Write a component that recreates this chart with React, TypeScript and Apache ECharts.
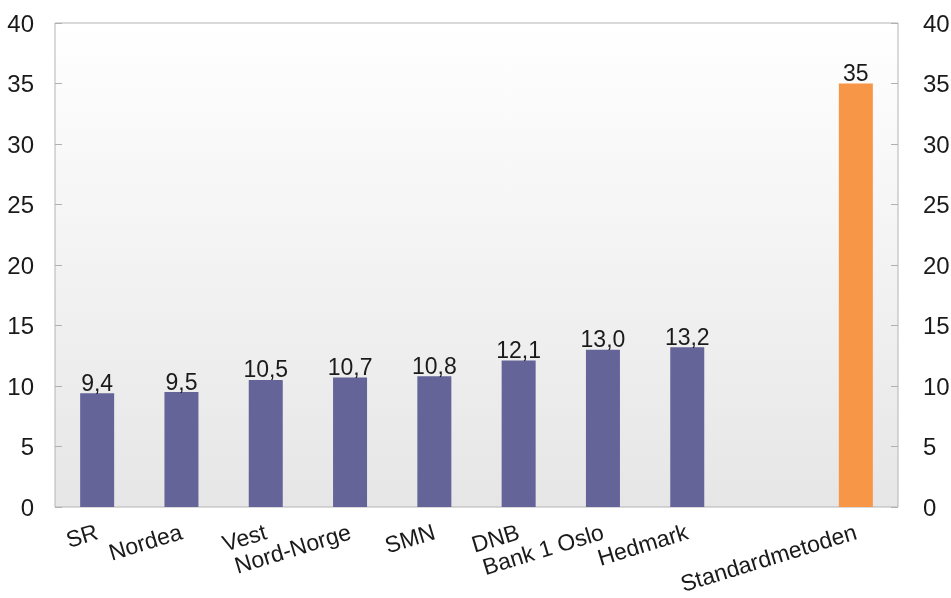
import React, { useEffect, useRef } from "react";
import * as echarts from "echarts";

const categories = ["SR", "Nordea", "Vest", "Nord-Norge", "SMN", "DNB", "Bank 1 Oslo", "Hedmark", "", "Standardmetoden"];
const values = [9.4, 9.5, 10.5, 10.7, 10.8, 12.1, 13.0, 13.2, null, 35];
const valueLabels = ["9,4", "9,5", "10,5", "10,7", "10,8", "12,1", "13,0", "13,2", "", "35"];
const highlighted = [false, false, false, false, false, false, false, false, false, true];
const yTicks = { min: 0, max: 40, interval: 5 };

const PURPLE = "#646498";
const ORANGE = "#F79646";
const FONT = "'Liberation Sans', Arial, sans-serif";

export default function App() {
  const ref = useRef<HTMLDivElement>(null);
  useEffect(() => {
    if (!ref.current) return;
    const chart = echarts.init(ref.current, null, { renderer: "svg" });
    const yAxisBase = {
      type: "value",
      min: yTicks.min,
      max: yTicks.max,
      interval: yTicks.interval,
      splitLine: { show: false },
      axisLine: { show: false },
      axisTick: { show: true, inside: true, length: 7, lineStyle: { color: "#b0b0b0" } },
      axisLabel: { fontSize: 24, color: "#1a1a1a", fontFamily: FONT },
    };
    chart.setOption({
      animation: false,
      textStyle: { fontFamily: FONT },
      grid: {
        left: 55,
        right: 53,
        top: 23,
        bottom: 91,
        containLabel: false,
        outerBoundsMode: "none",
        show: true,
        borderColor: "#b4b4b4",
        borderWidth: 1,
        backgroundColor: new echarts.graphic.LinearGradient(0, 0, 0, 1, [
          { offset: 0, color: "#ffffff" },
          { offset: 1, color: "#e6e6e6" },
        ]),
      },
      xAxis: {
        type: "category",
        data: categories,
        axisLine: { show: false },
        axisTick: { show: false },
        axisLabel: {
          interval: 0,
          rotate: 17,
          margin: 24,
          fontSize: 23,
          lineHeight: 23,
          color: "#1a1a1a",
          fontFamily: FONT,
        },
      },
      yAxis: [
        { ...yAxisBase, position: "left", axisLabel: { ...yAxisBase.axisLabel, margin: 21 } },
        { ...yAxisBase, position: "right", axisLabel: { ...yAxisBase.axisLabel, margin: 25 } },
      ],
      series: [
        {
          type: "bar",
          yAxisIndex: 0,
          barWidth: 34,
          data: values.map((v, i) => ({
            value: v,
            itemStyle: { color: highlighted[i] ? ORANGE : PURPLE },
            label: {
              show: v !== null,
              position: "top",
              distance: -1,
              fontSize: 23,
              color: "#1a1a1a",
              fontFamily: FONT,
              formatter: () => valueLabels[i],
            },
          })),
        },
      ],
    });
    return () => chart.dispose();
  }, []);
  return <div ref={ref} style={{ position: "fixed", left: 0, top: 0, width: 951, height: 598 }} />;
}
